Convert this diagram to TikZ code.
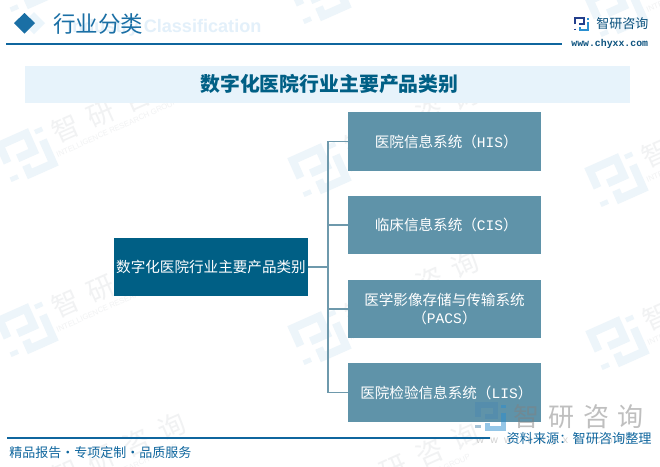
\documentclass[tikz,border=0pt]{standalone}
\usepackage{fontspec}
\setmainfont{Noto Sans CJK SC}
\newfontfamily\latinmono{Liberation Mono}
\newfontfamily\latinsans{Liberation Sans}
\usepackage{xcolor}
\definecolor{rootblue}{HTML}{005F85}
\definecolor{childblue}{HTML}{5F93A9}
\definecolor{linkblue}{HTML}{6E99AC}
\definecolor{headblue}{HTML}{1A6FA5}
\definecolor{ruleblue}{HTML}{0F669E}
\definecolor{bandblue}{HTML}{E7F3FB}
\definecolor{ghostblue}{HTML}{E3F0FA}
\definecolor{marklogo}{HTML}{EDF5FA}
\definecolor{marktext}{HTML}{F1F2F3}
\definecolor{navylogo}{HTML}{243F8C}
\definecolor{skylogo}{HTML}{2A8FD0}
\tikzset{
 rootbox/.style={fill=rootblue,text=white,minimum width=3.88cm,minimum height=1.16cm,inner sep=0pt,font=\fontsize{8.3}{11}\selectfont},
 childbox/.style={fill=childblue,text=white,minimum width=3.86cm,minimum height=1.17cm,inner sep=0pt,align=center,font=\fontsize{8.3}{10.2}\selectfont},
 link/.style={draw=linkblue,line width=1pt},
 footer/.style={text=ruleblue,inner sep=0pt,font=\fontsize{7.5}{9}\selectfont},
 }
\newcommand{\logoshape}[3]{
    \draw[#1, line width=#3, line cap=butt] (0,6) -- (0,0) -- (9,0) -- (9,6) -- (3.5,6);
    \draw[#1, line width=#3] (0,10.5) -- (0,12);
    \draw[#2, line width=#3] (13,0) -- (13,1.5);
    \draw[#2, line width=#3] (13,4) -- (13,12) -- (5,12) -- (5,9);
}
\newcommand{\watermark}[2]{
    \begin{scope}[shift={(#1,#2)}, rotate=24]
        \begin{scope}[shift={(-21,-20)}, scale=3.2]
            \logoshape{marklogo}{marklogo}{4.6pt}
        \end{scope}
        \node[transform shape, text=marktext, inner sep=0pt, font=\fontsize{15.5}{16}\selectfont] at (104,-8) {智\hspace{.42em}研\hspace{.42em}咨\hspace{.42em}询};
        \node[transform shape, text=marktext, inner sep=0pt, font=\latinsans\fontsize{4.4}{5}\selectfont] at (93,12) {INTELLIGENCE RESEARCH GROUP};
    \end{scope}
}

\begin{document}
\begin{tikzpicture}[x=.02cm, y=-.02cm]
        \useasboundingbox (0,0) rectangle (660,467);
        \clip (0,0) rectangle (660,467);
        \fill[white] (0,0) rectangle (660,467);
        \foreach \x/\y in {27/-15, 320/-3, 617/10, 27/155, 320/170, 617/180, 27/330, 320/338, 618/343, 27/500, 320/510} {
            \watermark{\x}{\y}
        }

        \fill[ghostblue!70] (34,12) -- (45,23) -- (34,34) -- (23,23) -- cycle;
        \fill[headblue] (24.5,13) -- (35,23) -- (24.5,33.5) -- (14,23) -- cycle;
        \node[anchor=west, inner sep=0pt, text=ghostblue, font=\latinsans\bfseries\fontsize{10.3}{12}\selectfont] (ghost) at (67,28) {Industry Classification};
        \node[anchor=west, inner sep=0pt, text=headblue, font=\fontsize{12.8}{14}\selectfont] (head) at (53,24) {行业分类};
        \draw[ruleblue, line width=.6pt] (6,44) -- (562,44);
        \begin{scope}[shift={(575,18)}]
            \logoshape{navylogo}{skylogo}{1.5pt}
        \end{scope}
        \node[anchor=west, inner sep=0pt, text=ruleblue!80!black, font=\fontsize{7.4}{9}\selectfont] (brand) at (596,24) {智研咨询};
        \node[anchor=west, inner sep=0pt, text=ruleblue!80!black, font=\latinmono\bfseries\fontsize{5.6}{7}\selectfont] (site) at (571,44) {www.chyxx.com};

        \node[fill=bandblue, minimum width=12.1cm, minimum height=.74cm, inner sep=0pt, text=rootblue, font=\bfseries\fontsize{11.3}{13}\selectfont] (band) at (327.5,84) {\hspace*{.2em}数字化医院行业主要产品类别};

        \node[rootbox] (root) at (211,267) {数字化医院行业主要产品类别};
        \node[childbox] (box1) at (444.5,141.5) {\hspace*{.25em}医院信息系统（{\latinmono HIS}）};
        \node[childbox] (box2) at (444.5,225) {\hspace*{.25em}临床信息系统（{\latinmono CIS}）};
        \node[childbox] (box3) at (444.5,309) {医学影像存储与传输系统\\（{\latinmono PACS}）};
        \node[childbox] (box4) at (444.5,392.5) {\hspace*{.25em}医院检验信息系统（{\latinmono LIS}）};

        \coordinate (trunk) at (328,267);
        \draw[link] (root.east) -- (trunk);
        \foreach \i in {1, 2, 3, 4} {
            \draw[link] (trunk) |- (box\i.west);
        }

        \begin{scope}[opacity=.5]
            \begin{scope}[shift={(478,405)}, scale=1.95]
                \logoshape{skylogo!60!gray}{skylogo}{3pt}
            \end{scope}
            \node[anchor=west, inner sep=0pt, text=gray, font=\fontsize{14.8}{16}\selectfont] (bigbrand) at (513,417) {智\hspace{.34em}研\hspace{.34em}咨\hspace{.34em}询};
            \node[anchor=west, inner sep=0pt, text=gray!70, font=\latinsans\fontsize{6}{7}\selectfont] (bigsite) at (476,441) {w\hspace{.6em}w\hspace{.6em}w\hspace{.6em}.\hspace{.6em}c\hspace{.6em}h\hspace{.6em}y\hspace{.6em}x\hspace{.6em}x\hspace{.6em}.\hspace{.6em}c\hspace{.6em}o\hspace{.6em}m};
        \end{scope}

        \draw[ruleblue, line width=.6pt] (7,438) -- (490,438);
        \node[footer, anchor=west, font=\fontsize{7.4}{9}\selectfont] (slogan) at (9,453) {精品报告·专项定制·品质服务};
        \node[footer, anchor=east] (source) at (652,439) {资料来源：智研咨询整理};
    \end{tikzpicture}
\end{document}
